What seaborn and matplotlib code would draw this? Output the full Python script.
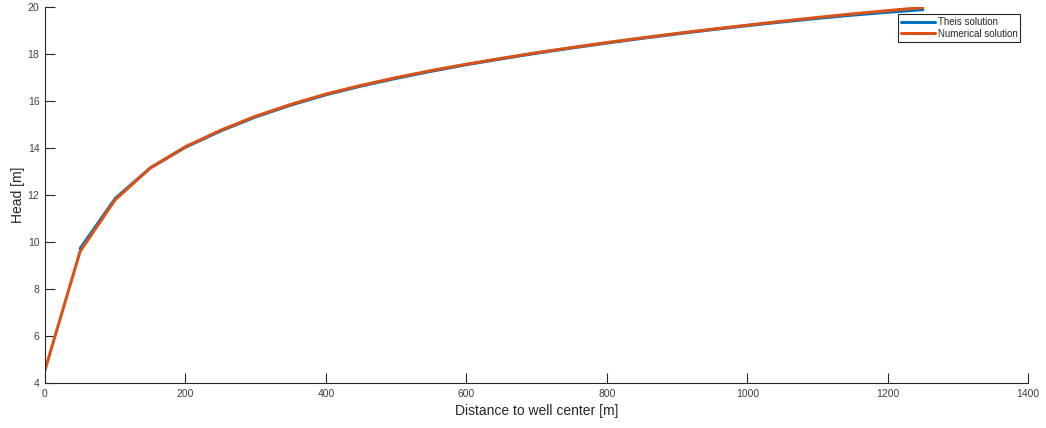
import numpy as np
import pandas as pd
import matplotlib
matplotlib.use("Agg")
import matplotlib.pyplot as plt
import seaborn as sns

# Data
dist_theis = [50, 100, 150, 200, 250, 300, 350, 400, 450, 500, 550, 600, 650, 700, 750,
              800, 850, 900, 950, 1000, 1050, 1100, 1150, 1200, 1250]
head_theis = [9.72, 11.85, 13.15, 14.03, 14.72, 15.32, 15.82, 16.26, 16.63, 16.96, 17.26,
              17.54, 17.79, 18.03, 18.25, 18.46, 18.66, 18.85, 19.03, 19.2, 19.36, 19.51,
              19.65, 19.77, 19.88]
dist_num = [0, 50, 100, 150, 200, 250, 300, 350, 400, 450, 500, 550, 600, 650, 700, 750,
            800, 850, 900, 950, 1000, 1050, 1100, 1150, 1200, 1250]
head_num = [4.55, 9.6, 11.8, 13.15, 14.05, 14.75, 15.35, 15.85, 16.29, 16.66, 16.99, 17.29,
            17.56, 17.81, 18.05, 18.27, 18.48, 18.68, 18.87, 19.05, 19.22, 19.39, 19.55,
            19.7, 19.84, 19.97]
series_names = ["Theis solution", "Numerical solution"]
x_ticks = [0, 200, 400, 600, 800, 1000, 1200, 1400]
y_ticks = [4, 6, 8, 10, 12, 14, 16, 18, 20]

df = pd.concat([
    pd.DataFrame({"x": dist_theis, "y": head_theis, "series": series_names[0]}),
    pd.DataFrame({"x": dist_num, "y": head_num, "series": series_names[1]}),
])

sns.set_style("white")
plt.rcParams["font.family"] = ["Liberation Sans", "DejaVu Sans"]

fig = plt.figure(figsize=(10.46, 4.28), dpi=100)
ax = fig.add_axes([0.043, 0.105, 0.940, 0.879])

palette = {"Theis solution": "#0072BD", "Numerical solution": "#D95319"}
sns.lineplot(data=df, x="x", y="y", hue="series", palette=palette, ax=ax,
             linewidth=2.2, sort=False, estimator=None)

ax.set_xlim(0, 1400)
ax.set_ylim(4, 20)
ax.set_xticks(x_ticks)
ax.set_yticks(y_ticks)
ax.tick_params(bottom=True, left=True, top=False, right=False,
               direction="in", length=7, width=0.8, colors="#262626",
               labelsize=7.5, labelcolor="#404040", pad=4)
for s in ["top", "right"]:
    ax.spines[s].set_visible(False)
for s in ["left", "bottom"]:
    ax.spines[s].set_color("#262626")
    ax.spines[s].set_linewidth(0.8)

ax.set_xlabel("Distance to well center [m]", fontsize=10, color="#262626", labelpad=4)
ax.set_ylabel("Head [m]", fontsize=10, color="#262626", labelpad=2)

leg = ax.legend(loc="upper right", bbox_to_anchor=(0.992, 0.981), fontsize=7,
                frameon=True, fancybox=False, edgecolor="#262626", framealpha=1,
                handlelength=3.5, borderpad=0.3, labelspacing=0.2, handletextpad=0.3,
                borderaxespad=0)
leg.get_frame().set_linewidth(0.8)

fig.savefig("out.png", dpi=100)
